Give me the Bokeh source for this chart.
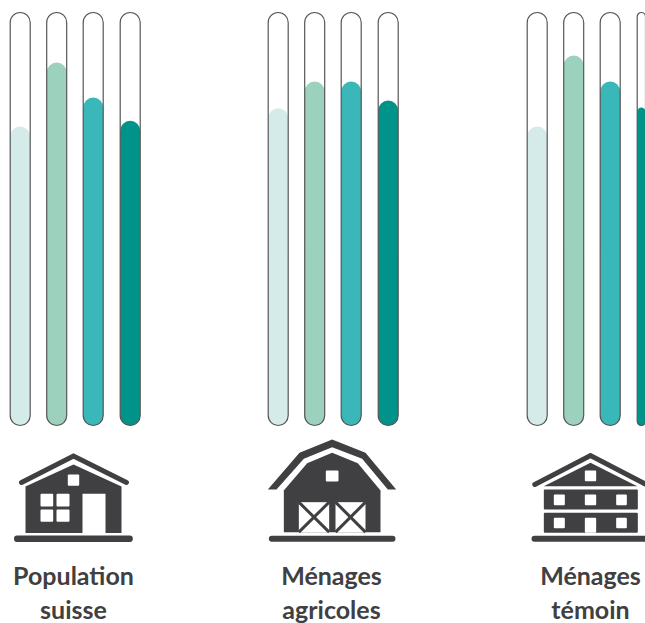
from bokeh.plotting import figure
from bokeh.models import Range1d, Label
from bokeh.embed import file_html
from bokeh.resources import INLINE

groups = ["Population suisse", "Ménages agricoles", "Ménages témoin"]
label_lines = [["Population", "suisse"], ["Ménages", "agricoles"], ["Ménages", "témoin"]]
series_colors = ["#d5ebe9", "#9bd1bd", "#3ab7b8", "#00938a"]
population_suisse = [72.4, 87.9, 79.4, 73.8]
menages_agricoles = [76.8, 83.3, 83.3, 78.7]
menages_temoin = [72.4, 89.6, 83.3, 77.0]
all_values = [population_suisse, menages_agricoles, menages_temoin]
tube_centers = [[19.7, 56.2, 92.7, 129.7], [277.7, 314.2, 350.7, 387.7], [536.7, 573.2, 609.7, 646.7]]
label_centers = [73, 331, 590]

W, H = 645, 623
Y0, Y100 = 425.0, 12.0
k = (Y0 - Y100) / 100
DARK = "#404042"

p = figure(width=W, height=H, output_backend="svg", toolbar_location=None,
           x_range=Range1d(0, W),
           y_range=Range1d((Y0 - H) / k, Y0 / k),
           min_border=0, min_border_left=0, min_border_right=0,
           min_border_top=0, min_border_bottom=0)
p.axis.visible = False
p.grid.visible = False
p.outline_line_color = None
p.background_fill_color = "white"
p.border_fill_color = "white"
p.extra_y_ranges = {"px": Range1d(H, 0)}

for centers, vals in zip(tube_centers, all_values):
    p.vbar(x=centers, width=20, bottom=0, top=vals, fill_color=series_colors,
           line_color=None, border_radius=10)
    p.vbar(x=centers, width=20, bottom=0, top=[100] * 4, fill_color=None,
           line_color="#555555", line_width=1.2, border_radius=10)


def box(x0, x1, y0, y1, color, r=0):
    p.quad(left=[x0], right=[x1], top=[y0], bottom=[y1], fill_color=color,
           line_color=None, border_radius=r, y_range_name="px")


def poly(xs, ys, color=DARK):
    p.patch(xs, ys, fill_color=color, line_color=None, y_range_name="px")


def stroke(xs, ys, w=5, color=DARK, cap="round"):
    p.line(xs, ys, line_color=color, line_width=w, line_cap=cap, line_join="miter",
           y_range_name="px")


# House
stroke([21, 73, 126], [482, 455.5, 482])
poly([25, 73, 121, 121, 105, 105, 82, 82, 25], [486, 464, 486, 532.5, 532.5, 493.3, 493.3, 532.5, 532.5])
box(67.3, 78.7, 474, 485.3, "white", 1)
for x0, x1 in [(40, 52.7), (56, 69)]:
    for y0, y1 in [(493.3, 506), (509, 521.3)]:
        box(x0, x1, y0, y1, "white", 1)
box(13.5, 132.3, 535, 541.5, DARK, 3)

# Barn
bx = lambda X: 250 + X / 3
by = lambda Y: 420 + Y / 3
poly([bx(v) for v in [52, 147, 245, 345, 437, 412, 335, 245, 160, 78]],
     [by(v) for v in [207, 97, 57, 97, 207, 207, 115, 80, 115, 207]])
poly([bx(v) for v in [100, 170, 245, 322, 390, 390, 100]],
     [by(v) for v in [210, 128, 97, 128, 210, 335, 335]])
box(bx(226), bx(264), by(150), by(183), "white", 1)
for a, b in [(145, 236), (255, 345)]:
    box(bx(a), bx(b), by(245), by(335), "white")
    stroke([bx(a), bx(b)], [by(245), by(335)], 3, cap="butt")
    stroke([bx(a), bx(b)], [by(335), by(245)], 3, cap="butt")
box(bx(55), bx(435), by(346), by(364), DARK, 3)

# Chalet
cx = lambda X: 505 + X / 3
cy = lambda Y: 420 + Y / 3
stroke([cx(88), cx(255), cx(422)], [cy(192), cy(105), cy(192)])
poly([cx(115), cx(255), cx(395)], [cy(197), cy(127), cy(197)])
box(cx(238), cx(272), cy(150), cy(182), "white", 1)
box(cx(115), cx(397), cy(207), cy(267), DARK, 1)
box(cx(115), cx(397), cy(277), cy(337), DARK, 1)
for a, b in [(145, 178), (238, 272), (332, 364)]:
    box(cx(a), cx(b), cy(222), cy(254), "white", 1)
for a, b, bottom in [(145, 178, 323), (238, 272, 337), (332, 364, 323)]:
    box(cx(a), cx(b), cy(292), cy(bottom), "white", 1)
box(cx(78), cx(432), cy(346), cy(364), DARK, 3)

# Labels
for c, lines in zip(label_centers, label_lines):
    for txt, mid in zip(lines, [574, 608.5]):
        p.add_layout(Label(x=c, y=mid, y_range_name="px", text=txt, text_align="center",
                           text_baseline="middle", text_font="Lato", text_font_style="bold",
                           text_font_size="25px", text_color=DARK))

open("out.html", "w").write(file_html(p, INLINE))
